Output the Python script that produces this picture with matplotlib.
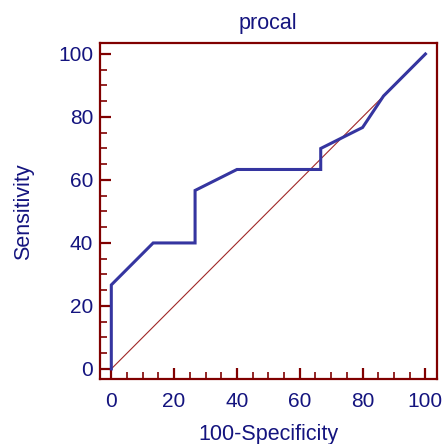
import matplotlib
matplotlib.use("Agg")
import matplotlib.pyplot as plt
from matplotlib.ticker import MultipleLocator

# ROC curve points (100-Specificity, Sensitivity)
fpr = [0, 0, 13.33, 26.67, 26.67, 40, 66.67, 66.67, 80, 86.67, 100]
tpr = [0, 26.67, 40, 40, 56.67, 63.33, 63.33, 70, 76.67, 86.67, 100]
diag = [0, 100]

navy = '#14147f'
frame = '#800000'

plt.rcParams['font.family'] = ['Liberation Sans', 'DejaVu Sans']

fig = plt.figure(figsize=(4.47, 4.44), dpi=100)
ax = fig.add_axes([0.2237, 0.1457, 0.977 - 0.2237, 0.9025 - 0.1457])

ax.plot(diag, diag, color='#a02828', lw=0.8)
ax.plot(fpr, tpr, color='#3535a0', lw=2.2, solid_joinstyle='miter')

ax.set_xlim(-3.6, 103.6)
ax.set_ylim(-3.3, 103.4)
ax.xaxis.set_major_locator(MultipleLocator(20))
ax.xaxis.set_minor_locator(MultipleLocator(5))
ax.yaxis.set_major_locator(MultipleLocator(20))
ax.yaxis.set_minor_locator(MultipleLocator(5))

for sp in ax.spines.values():
    sp.set_color(frame)
    sp.set_linewidth(1.6)

ax.tick_params(which='major', direction='in', length=8, width=1.6, color=frame,
               labelcolor=navy, labelsize=15)
ax.tick_params(which='minor', direction='in', length=5, width=1.2, color=frame)
ax.tick_params(axis='x', which='major', pad=9)
ax.tick_params(axis='y', which='major', pad=5)

ax.set_xlabel('100-Specificity', color=navy, fontsize=15.5, labelpad=9.5)
ax.set_ylabel('Sensitivity', color=navy, fontsize=15.5, labelpad=17)
ax.set_title('procal', color=navy, fontsize=15.5, pad=10)

fig.savefig('out.png', dpi=100)
